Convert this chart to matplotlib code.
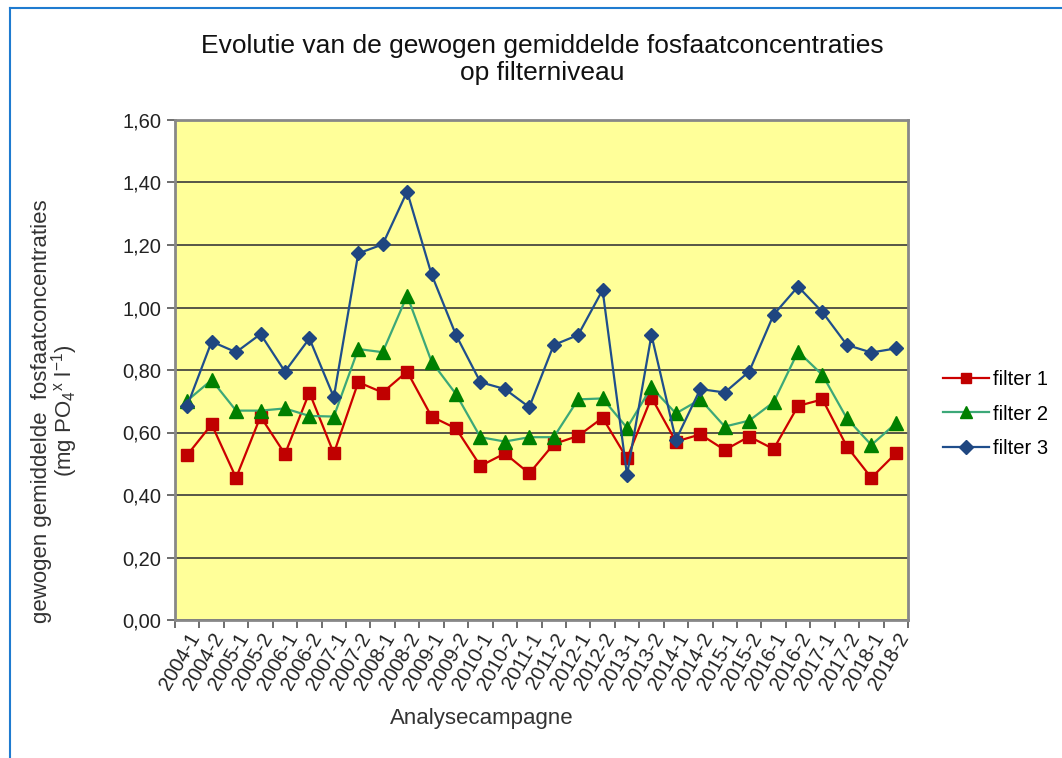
import matplotlib
matplotlib.use('Agg')
from matplotlib import pyplot as plt
from matplotlib.lines import Line2D
import numpy as np

campagnes = ['2004-1', '2004-2', '2005-1', '2005-2', '2006-1', '2006-2', '2007-1', '2007-2',
             '2008-1', '2008-2', '2009-1', '2009-2', '2010-1', '2010-2', '2011-1', '2011-2',
             '2012-1', '2012-2', '2013-1', '2013-2', '2014-1', '2014-2', '2015-1', '2015-2',
             '2016-1', '2016-2', '2017-1', '2017-2', '2018-1', '2018-2']

filter1 = [0.528, 0.626, 0.455, 0.651, 0.531, 0.728, 0.533, 0.761, 0.728, 0.795,
           0.651, 0.613, 0.493, 0.533, 0.469, 0.563, 0.589, 0.647, 0.517, 0.712,
           0.571, 0.594, 0.544, 0.587, 0.547, 0.685, 0.706, 0.555, 0.455, 0.533]
filter2 = [0.702, 0.768, 0.670, 0.670, 0.677, 0.653, 0.651, 0.867, 0.857, 1.038,
           0.827, 0.723, 0.585, 0.571, 0.585, 0.585, 0.706, 0.709, 0.615, 0.745,
           0.661, 0.706, 0.619, 0.638, 0.697, 0.859, 0.784, 0.645, 0.560, 0.629]
filter3 = [0.685, 0.891, 0.857, 0.915, 0.795, 0.901, 0.713, 1.173, 1.202, 1.371,
           1.106, 0.912, 0.761, 0.739, 0.681, 0.880, 0.912, 1.056, 0.464, 0.912,
           0.576, 0.739, 0.728, 0.795, 0.977, 1.067, 0.985, 0.880, 0.856, 0.869]

plt.rcParams['font.family'] = ['Liberation Sans', 'DejaVu Sans']
plt.rcParams['mathtext.fontset'] = 'custom'
plt.rcParams['mathtext.rm'] = 'Liberation Sans'
plt.rcParams['mathtext.it'] = 'Liberation Sans:italic'

W, H = 1062, 758
fig = plt.figure(figsize=(W / 100, H / 100), dpi=100)
ax = fig.add_axes([175 / W, 1 - 620 / H, 733 / W, 500 / H])
ax.set_facecolor('#FFFF99')

x = np.arange(len(campagnes))
ax.plot(x, filter1, color='#CC0000', lw=1.6, marker='s', ms=8.5, mfc='#C00000', mec='#C00000',
        label='filter 1', zorder=3)
ax.plot(x, filter2, color='#3CA878', lw=1.6, marker='^', ms=9.5, mfc='#008000', mec='#008000',
        label='filter 2', zorder=3)
ax.plot(x, filter3, color='#1F4E8C', lw=1.6, marker='D', ms=7.5, mfc='#1F4680', mec='#1F4680',
        label='filter 3', zorder=4)

ax.set_xlim(-0.5, len(campagnes) - 0.5)
ax.set_ylim(0, 1.6)
yt = np.arange(0, 1.61, 0.2)
ax.set_yticks(yt)
ax.set_yticklabels([f'{v:.2f}'.replace('.', ',') for v in yt], fontsize=14.5, color='#222222')
ax.yaxis.grid(True, color='#3a3a3a', lw=1.2)
ax.set_axisbelow(True)

ax.set_xticks(x)
ax.set_xticklabels(campagnes, rotation=60, ha='right', rotation_mode='anchor', fontsize=14.5,
                   color='#222222')
ax.set_xticks(np.arange(-0.5, len(campagnes)), minor=True)
ax.tick_params(axis='x', which='major', length=0, pad=7)
ax.tick_params(axis='x', which='minor', length=6, color='#555555', width=1.2)
ax.tick_params(axis='y', length=6, color='#555555', width=1.2, pad=4)

for s in ax.spines.values():
    s.set_color('#888888')
    s.set_linewidth(2)

fig.text(542 / W, 1 - 34 / H,
         'Evolutie van de gewogen gemiddelde fosfaatconcentraties\nop filterniveau',
         fontsize=19, ha='center', va='top', linespacing=1.17, color='#111111')

ax.set_xlabel('Analysecampagne', fontsize=16, color='#333333')
ax.xaxis.set_label_coords((482 - 175) / 733, (620 - 708) / 500)
ax.set_ylabel('gewogen gemiddelde  fosfaatconcentraties\n'
              r'(mg PO$_4$$^{\mathrm{x}}$ l$^{\mathrm{-1}}$)',
              fontsize=16, color='#333333', linespacing=0.85)
ax.yaxis.set_label_coords((80 - 175) / 733, (620 - 411) / 500)

ax.legend(loc='center left', bbox_to_anchor=((943 - 175) / 733, (620 - 414) / 500),
          frameon=False, fontsize=14.5, handlelength=2.3, labelspacing=0.75,
          handletextpad=0.2, borderpad=0, borderaxespad=0, markerscale=0.9)

# blue border on top and left
fig.add_artist(Line2D([10 / W, 1], [1 - 8 / H, 1 - 8 / H], color='#1F7BD0', lw=1.5))
fig.add_artist(Line2D([10 / W, 10 / W], [0, 1 - 8 / H], color='#1F7BD0', lw=1.5))

fig.savefig('out.png', dpi=100)
